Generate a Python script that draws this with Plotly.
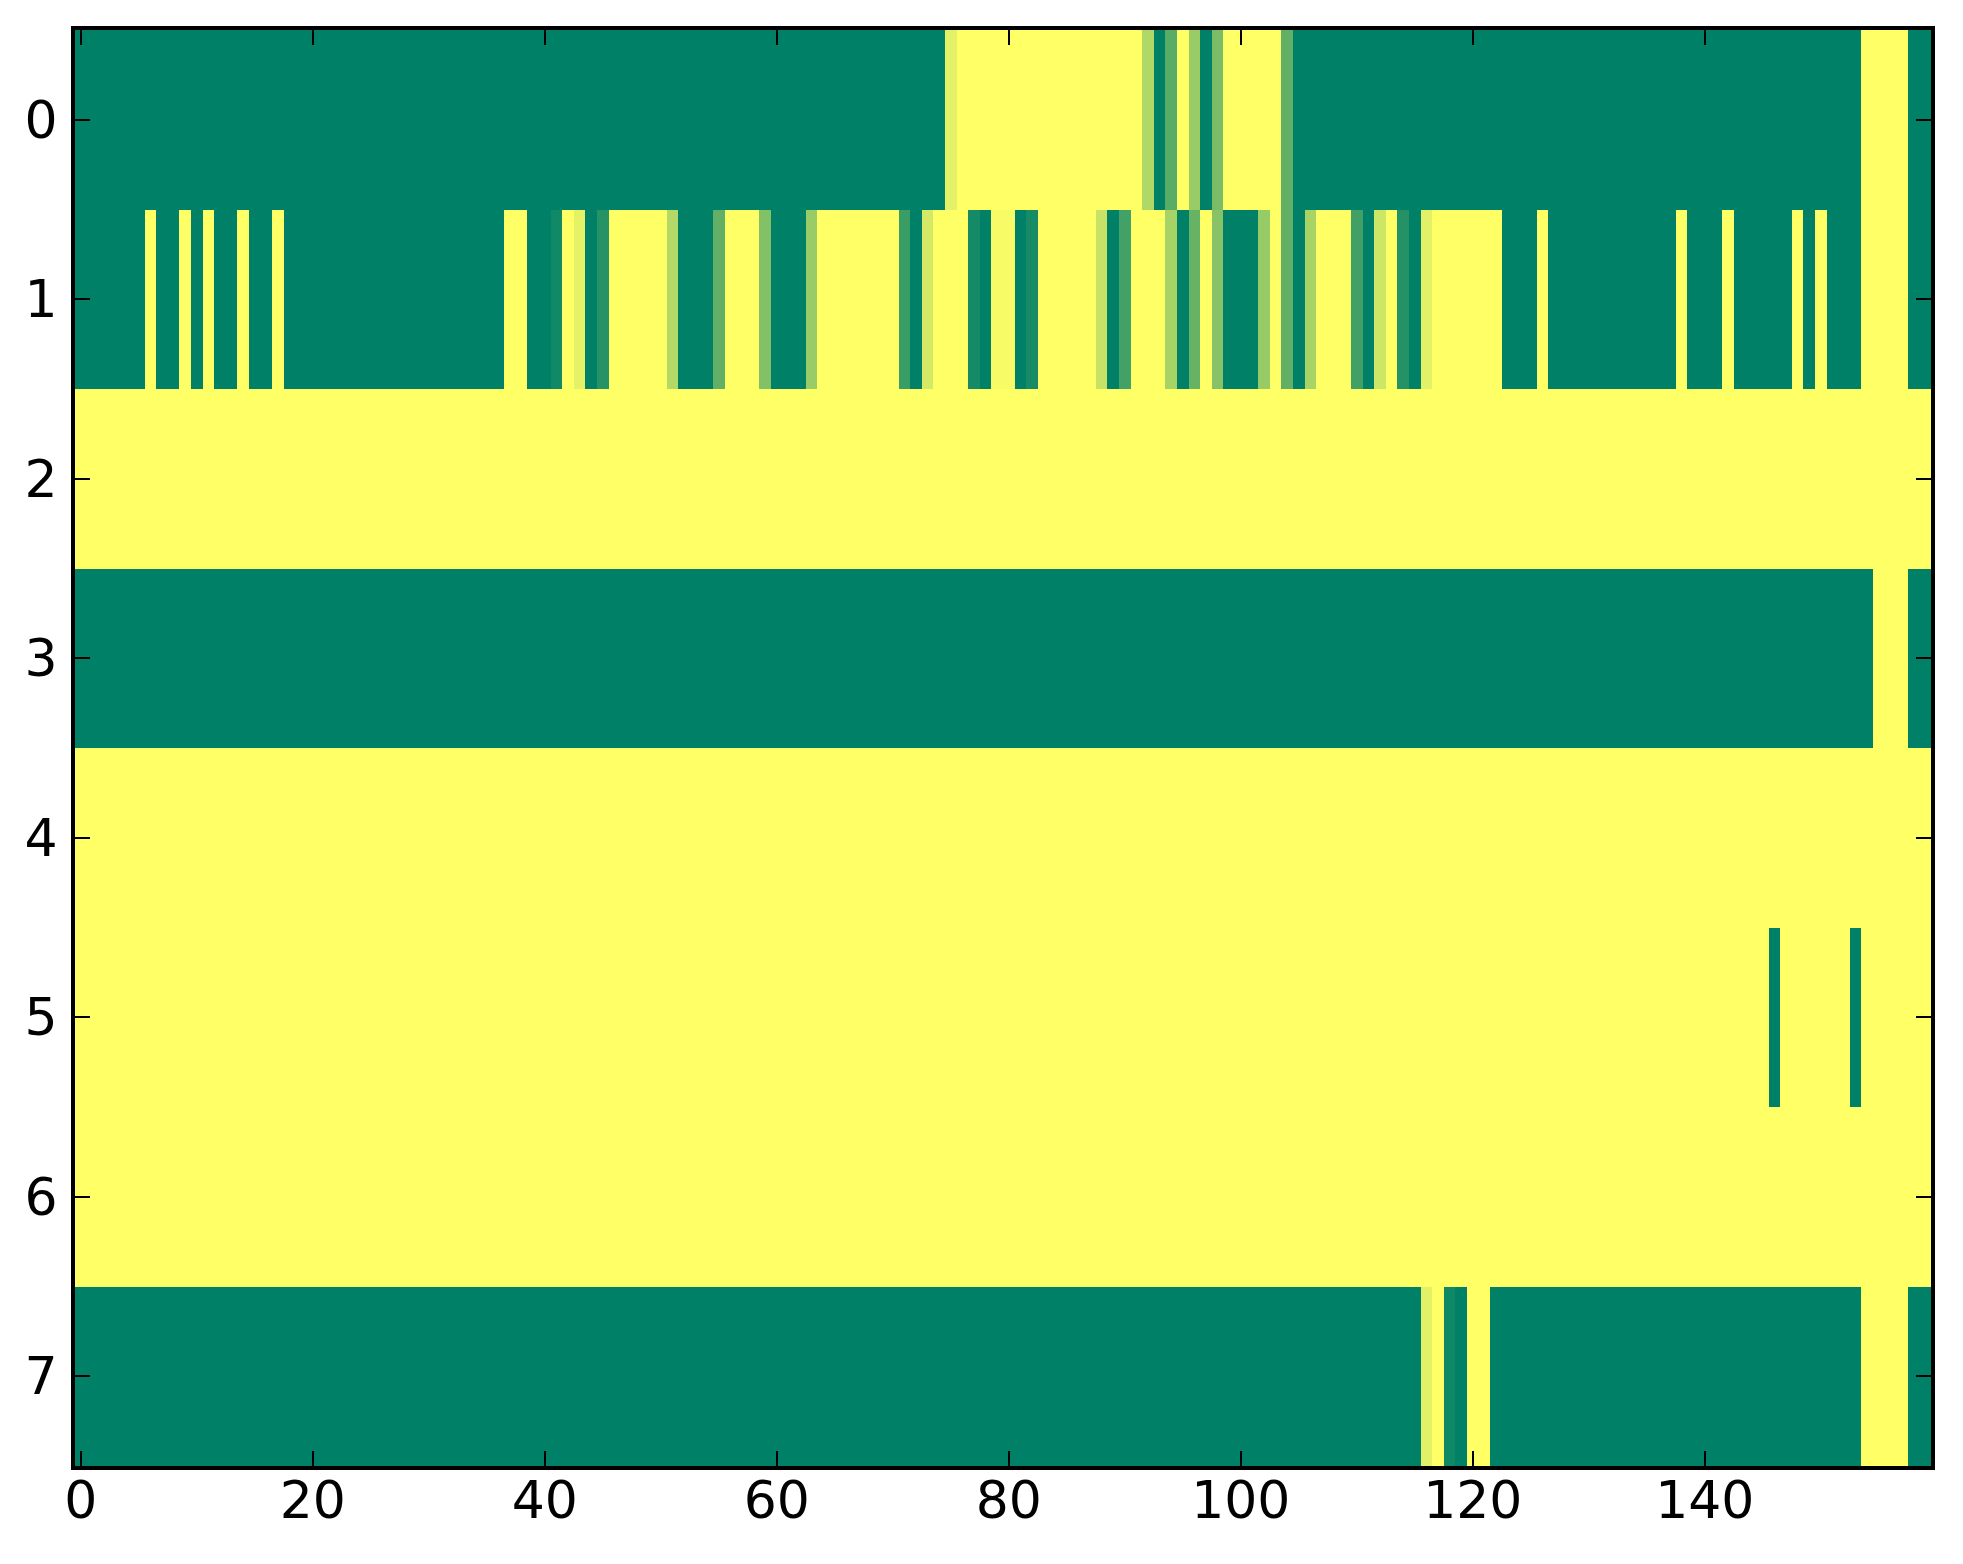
import plotly.graph_objects as go

# Column indices and row indices of the image
columns = list(range(160))
rows = list(range(8))
x_tick_values = [0, 20, 40, 60, 80, 100, 120, 140]
y_tick_values = [0, 1, 2, 3, 4, 5, 6, 7]

# Each row is given as runs of (value, number_of_columns)
row0_runs = [(0, 75), (0.89, 1), (1, 16), (0.69, 1), (0, 1), (0.35, 1), (1, 1),
             (0.6, 1), (0, 1), (0.48, 1), (1, 5), (0.38, 1), (0, 49), (1, 4), (0, 2)]
row1_runs = [(0, 6), (1, 1), (0, 2), (1, 1), (0, 1), (1, 1), (0, 2), (1, 1), (0, 2),
             (1, 1), (0, 19), (1, 2), (0, 2), (0.07, 1), (1, 1), (0.9, 1), (0, 1),
             (0.15, 1), (1, 5), (0.7, 1), (0, 3), (0.38, 1), (1, 3), (0.51, 1), (0, 3),
             (0.6, 1), (1, 7), (0.23, 1), (0, 1), (0.83, 1), (1, 3), (0.08, 1), (0, 1),
             (0.97, 2), (0, 1), (0.09, 1), (1, 5), (0.78, 1), (0, 1), (0.26, 1), (1, 3),
             (0.65, 1), (0, 1), (0.4, 1), (1, 1), (0.53, 1), (0, 3), (0.59, 1), (1, 1),
             (0.38, 1), (0, 1), (0.66, 1), (1, 3), (0.25, 1), (0, 1), (0.8, 1), (1, 1),
             (0.14, 1), (0, 1), (0.89, 1), (1, 6), (0, 3), (1, 1), (0, 11), (1, 1),
             (0, 3), (1, 1), (0, 5), (1, 1), (0, 1), (1, 1), (0, 3), (1, 4), (0, 2)]
row2_runs = [(1, 160)]
row3_runs = [(0, 155), (1, 3), (0, 2)]
row4_runs = [(1, 160)]
row5_runs = [(1, 146), (0, 1), (1, 6), (0, 1), (1, 6)]
row6_runs = [(1, 160)]
row7_runs = [(0, 116), (0.89, 1), (1, 1), (0.06, 1), (0, 1), (1, 2), (0, 32), (1, 4), (0, 2)]


def expand(runs):
    out = []
    for value, count in runs:
        out.extend([value] * count)
    return out


z = [expand(r) for r in (row0_runs, row1_runs, row2_runs, row3_runs,
                         row4_runs, row5_runs, row6_runs, row7_runs)]

fig = go.Figure(
    go.Heatmap(
        x=columns,
        y=rows,
        z=z,
        zmin=0,
        zmax=1,
        colorscale=[[0, "#008066"], [1, "#ffff66"]],
        showscale=False,
        hoverinfo="skip",
    )
)

axis_style = dict(
    ticks="inside",
    ticklen=15,
    tickwidth=2,
    tickcolor="black",
    showline=True,
    linewidth=4,
    linecolor="black",
    mirror="ticks",
    showgrid=False,
    zeroline=False,
    tickfont=dict(family="DejaVu Sans", size=52, color="black"),
)

fig.update_layout(
    width=1963,
    height=1564,
    autosize=False,
    margin=dict(l=67, r=40, t=22, b=106, pad=0),
    paper_bgcolor="white",
    plot_bgcolor="white",
    xaxis=dict(range=[-0.5, 159.5], tickvals=x_tick_values,
               ticklabelstandoff=-14, **axis_style),
    yaxis=dict(range=[7.5, -0.5], tickvals=y_tick_values,
               ticklabelstandoff=3, **axis_style),
)

fig.write_html("out.html")
